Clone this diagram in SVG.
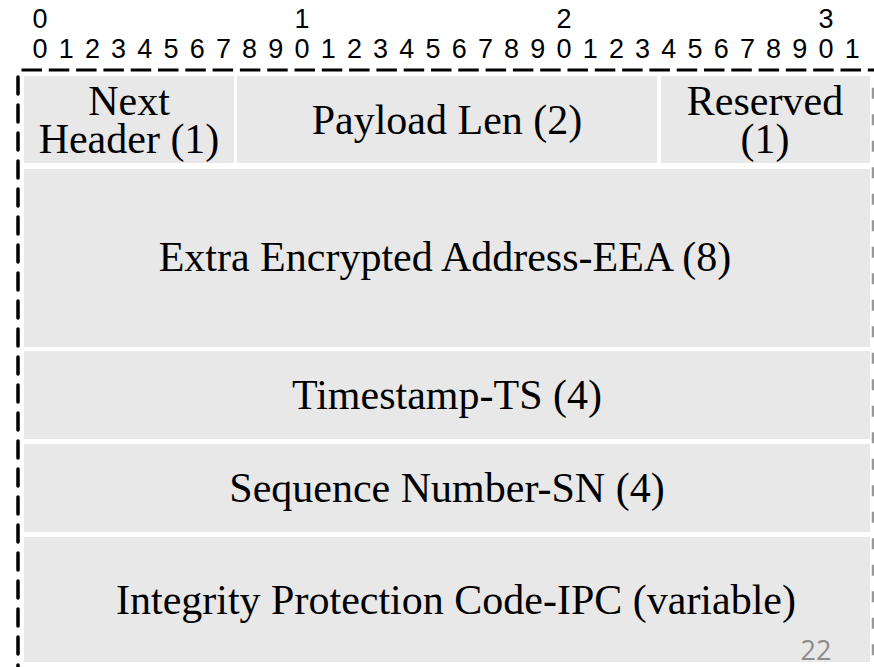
<svg xmlns="http://www.w3.org/2000/svg" width="874" height="667" viewBox="0 0 874 667">
  <style>
    .fld { fill: #e8e8e8; }
    .lbl { font-family: "Liberation Serif", "Times New Roman", serif; font-size: 42px; fill: #000; text-anchor: middle; }
    .bit { font-family: "Liberation Sans", Arial, sans-serif; font-size: 27px; fill: #000; text-anchor: middle; }
    .pg { font-family: "Open Sans", "Liberation Sans", sans-serif; font-size: 27px; fill: #8c8c8c; text-anchor: middle; }
  </style>
  <rect width="874" height="667" fill="#ffffff"/>

  <!-- bit ruler -->
  <g id="ruler">
    <text class="bit" x="40" y="28">0</text>
    <text class="bit" x="302" y="28">1</text>
    <text class="bit" x="564" y="28">2</text>
    <text class="bit" x="826" y="28">3</text>
    <text class="bit" y="58">
      <tspan x="40">0</tspan><tspan x="66.2">1</tspan><tspan x="92.4">2</tspan><tspan x="118.6">3</tspan><tspan x="144.8">4</tspan><tspan x="171">5</tspan><tspan x="197.2">6</tspan><tspan x="223.4">7</tspan><tspan x="249.6">8</tspan><tspan x="275.8">9</tspan><tspan x="302">0</tspan><tspan x="328.2">1</tspan><tspan x="354.4">2</tspan><tspan x="380.6">3</tspan><tspan x="406.8">4</tspan><tspan x="433">5</tspan><tspan x="459.2">6</tspan><tspan x="485.4">7</tspan><tspan x="511.6">8</tspan><tspan x="537.8">9</tspan><tspan x="564">0</tspan><tspan x="590.2">1</tspan><tspan x="616.4">2</tspan><tspan x="642.6">3</tspan><tspan x="668.8">4</tspan><tspan x="695">5</tspan><tspan x="721.2">6</tspan><tspan x="747.4">7</tspan><tspan x="773.6">8</tspan><tspan x="799.8">9</tspan><tspan x="826">0</tspan><tspan x="852.2">1</tspan>
    </text>
  </g>

  <!-- dashed frame around the header -->
  <g id="frame" fill="none">
    <line x1="21.5" y1="70" x2="874" y2="70" stroke="#000" stroke-width="3.2" stroke-dasharray="20.5 6.8"/>
    <line x1="18" y1="77" x2="18" y2="667" stroke="#000" stroke-width="3.5" stroke-dasharray="17 11" stroke-linecap="round"/>
    <line x1="873" y1="87.7" x2="873" y2="667" stroke="#999" stroke-width="2.5" stroke-dasharray="11 15.5"/>
  </g>

  <!-- header fields -->
  <g id="next-header">
    <rect class="fld" x="24" y="76" width="210" height="87"/>
    <text class="lbl" x="129" y="115">Next</text>
    <text class="lbl" x="129" y="153">Header (1)</text>
  </g>
  <g id="payload-len">
    <rect class="fld" x="237" y="76" width="420" height="87"/>
    <text class="lbl" x="447" y="134">Payload Len (2)</text>
  </g>
  <g id="reserved">
    <rect class="fld" x="661" y="76" width="209" height="87"/>
    <text class="lbl" x="765" y="115">Reserved</text>
    <text class="lbl" x="765" y="153">(1)</text>
  </g>
  <g id="eea">
    <rect class="fld" x="24" y="169" width="846" height="178"/>
    <text class="lbl" x="445" y="271">Extra Encrypted Address-EEA (8)</text>
  </g>
  <g id="timestamp">
    <rect class="fld" x="24" y="351" width="846" height="88"/>
    <text class="lbl" x="447" y="409">Timestamp-TS (4)</text>
  </g>
  <g id="sequence">
    <rect class="fld" x="24" y="444" width="846" height="88"/>
    <text class="lbl" x="447" y="502">Sequence Number-SN (4)</text>
  </g>
  <g id="ipc">
    <rect class="fld" x="24" y="537" width="846" height="125"/>
    <text class="lbl" x="456" y="614">Integrity Protection Code-IPC (variable)</text>
  </g>

  <text id="page-number" class="pg" x="816" y="660">22</text>
</svg>
